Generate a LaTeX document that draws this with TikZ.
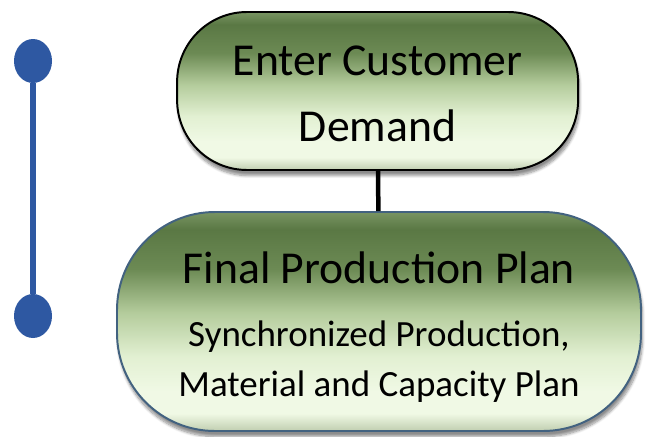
\documentclass[tikz,border=0pt]{standalone}
\usepackage{fontspec}
\setmainfont{Carlito}
\usetikzlibrary{shapes.geometric,shadows.blur}

\definecolor{planTop}{RGB}{120,148,98}
\definecolor{planDark}{RGB}{90,120,68}
\definecolor{planDarkB}{RGB}{108,138,84}
\definecolor{planMid}{RGB}{180,204,156}
\definecolor{planLightB}{RGB}{226,240,210}
\definecolor{planLight}{RGB}{240,249,229}
\definecolor{planRim}{RGB}{192,206,176}
\definecolor{planEdge}{RGB}{66,98,128}
\definecolor{phaseBlue}{RGB}{46,88,162}

% path spans 25bp (bottom) to 75bp (top)
\pgfdeclareverticalshading{planshade}{100bp}{color(0bp)=(planRim); color(25bp)=(planRim);
  color(29bp)=(planLight); color(34bp)=(planLight); color(42bp)=(planLightB); color(52bp)=(planMid);
  color(62bp)=(planDarkB); color(71bp)=(planDark); color(75bp)=(planTop); color(100bp)=(planTop)}

\tikzset{
  planbox/.style={draw, line width=1.4pt, align=center, inner sep=0pt, shading=planshade,
    blur shadow={shadow xshift=1pt, shadow yshift=-4pt, shadow blur steps=8, shadow opacity=45}},
  phasedot/.style={ellipse, fill=phaseBlue, inner sep=0pt, minimum width=0.95cm, minimum height=1.1cm}
}

\begin{document}
\begin{tikzpicture}
  \useasboundingbox (0,0) rectangle (16.175,10.9);

  % phase marker on the left
  \node[phasedot] (start) at (0.825,9.375) {};
  \node[phasedot] (stop) at (0.825,3.0) {};
  \draw[phaseBlue, line width=4.3pt] (start) -- (stop);

  % the two planning steps
  \node[planbox, rounded corners=1.75cm, minimum width=10.025cm, minimum height=3.95cm,
    font=\fontsize{32.5}{47}\selectfont] (demand) at (9.44,8.625)
    {\rule{0pt}{25pt}Enter Customer\\Demand};
  \node[planbox, draw=planEdge, rounded corners=2.45cm, minimum width=13.1cm, minimum height=5.475cm,
    font=\fontsize{26.3}{35}\selectfont] (plan) at (9.475,2.8625)
    {\rule{0pt}{30pt}{\fontsize{32.5}{35}\selectfont Final Production Plan}\\[10.5pt]
     Synchronized Production,\\Material and Capacity Plan};

  \draw[line width=3.2pt] (demand) -- (plan);
\end{tikzpicture}
\end{document}
